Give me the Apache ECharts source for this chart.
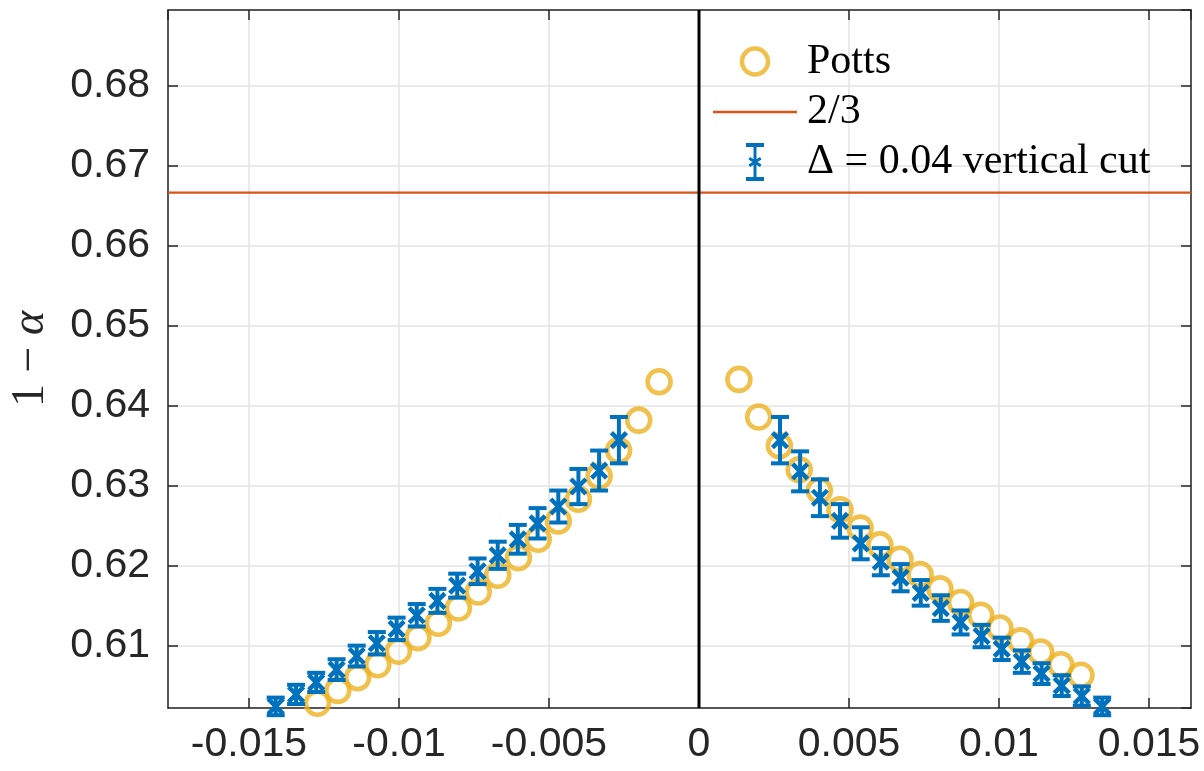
<!DOCTYPE html>
<html>
<head>
<meta charset="utf-8">
<script src="https://cdn.jsdelivr.net/npm/echarts@6/dist/echarts.min.js"></script>
<style>
html,body{margin:0;padding:0;background:#fff;}
#chart{width:1204px;height:771px;}
</style>
</head>
<body>
<div id="chart"></div>
<script>
// Axis ranges
var xRange = [-0.0177, 0.0164];
var yRange = [0.6022, 0.6895];
var xStep = 0.005;
var yStep = 0.01;
var twoThirds = 2 / 3;

// Potts (orange circles), left branch then right branch: [x, 1-alpha]
var pottsLeft = [
  [-0.00133, 0.6430], [-0.00201, 0.6382], [-0.00268, 0.6344], [-0.00333, 0.6312],
  [-0.00402, 0.6283], [-0.00469, 0.6256], [-0.00536, 0.6233], [-0.00602, 0.6210],
  [-0.00671, 0.6188], [-0.00736, 0.6167], [-0.00802, 0.6147], [-0.00869, 0.6128],
  [-0.00937, 0.6110], [-0.01002, 0.6093], [-0.01071, 0.6076], [-0.01138, 0.6060],
  [-0.01204, 0.6044], [-0.01272, 0.6028]
];
var pottsRight = [
  [0.00133, 0.6433], [0.00199, 0.6386], [0.00268, 0.6350], [0.00334, 0.6320],
  [0.00401, 0.6294], [0.00470, 0.6270], [0.00537, 0.6247], [0.00603, 0.6226],
  [0.00670, 0.6208], [0.00737, 0.6189], [0.00803, 0.6171], [0.00872, 0.6154],
  [0.00939, 0.6138], [0.01003, 0.6122], [0.01072, 0.6106], [0.01139, 0.6092],
  [0.01206, 0.6076], [0.01273, 0.6063]
];

// Delta = 0.04 vertical cut (blue, with error): [x, 1-alpha, error]
var cutLeft = [
  [-0.01411, 0.6024, 0.0011], [-0.01343, 0.6039, 0.0012], [-0.01276, 0.6054, 0.0012],
  [-0.01208, 0.6070, 0.0013], [-0.01141, 0.6087, 0.0013], [-0.01074, 0.6103, 0.0014],
  [-0.01008, 0.6121, 0.0014], [-0.00941, 0.6138, 0.0014], [-0.00872, 0.6156, 0.0015],
  [-0.00806, 0.6175, 0.0015], [-0.00738, 0.6193, 0.0016], [-0.00671, 0.6213, 0.0017],
  [-0.00604, 0.6233, 0.0018], [-0.00538, 0.6253, 0.0019], [-0.00469, 0.6274, 0.0020],
  [-0.00402, 0.6299, 0.0022], [-0.00333, 0.6319, 0.0025], [-0.00267, 0.6357, 0.0029]
];
var cutRight = [
  [0.00270, 0.6357, 0.0029], [0.00337, 0.6318, 0.0025], [0.00403, 0.6285, 0.0023],
  [0.00470, 0.6256, 0.0021], [0.00539, 0.6228, 0.0020], [0.00606, 0.6205, 0.0017],
  [0.00672, 0.6185, 0.0017], [0.00739, 0.6166, 0.0016], [0.00806, 0.6147, 0.0016],
  [0.00872, 0.6129, 0.0015], [0.00942, 0.6112, 0.0014], [0.01009, 0.6096, 0.0014],
  [0.01076, 0.6080, 0.0014], [0.01142, 0.6065, 0.0013], [0.01209, 0.6050, 0.0013],
  [0.01276, 0.6037, 0.0012], [0.01344, 0.6024, 0.0011]
];

var names = ['Potts', '2/3', 'Δ = 0.04 vertical cut'];

var BLUE = '#0072BD', ORANGE = '#EDB120', RED = '#D95319', AX = '#262626', GRID = '#e3e3e3';

var chart = echarts.init(document.getElementById('chart'), null, {renderer: 'canvas'});

function errRender(params, api) {
  var x = api.value(0), y = api.value(1), e = api.value(2);
  var c = api.coord([x, y]);
  var t = api.coord([x, y + e]);
  var b = api.coord([x, y - e]);
  var hw = 9, m = 7.5;
  var st = {stroke: BLUE, lineWidth: 4, fill: null};
  var ms = {stroke: BLUE, lineWidth: 4.5, fill: null};
  return {
    type: 'group',
    children: [
      {type: 'line', shape: {x1: c[0], y1: t[1], x2: c[0], y2: b[1]}, style: st},
      {type: 'line', shape: {x1: c[0] - hw, y1: t[1], x2: c[0] + hw, y2: t[1]}, style: st},
      {type: 'line', shape: {x1: c[0] - hw, y1: b[1], x2: c[0] + hw, y2: b[1]}, style: st},
      {type: 'line', shape: {x1: c[0] - m, y1: c[1] - m, x2: c[0] + m, y2: c[1] + m}, style: ms},
      {type: 'line', shape: {x1: c[0] - m, y1: c[1] + m, x2: c[0] + m, y2: c[1] - m}, style: ms}
    ]
  };
}

var axisCommonX = {
  type: 'value', min: xRange[0], max: xRange[1], minInterval: xStep, maxInterval: xStep
};
var axisCommonY = {
  type: 'value', min: yRange[0], max: yRange[1], minInterval: yStep, maxInterval: yStep
};

var option = {
  animation: false,
  backgroundColor: '#ffffff',
  grid: {left: 168, right: 13, top: 10, bottom: 63, containLabel: false},
  xAxis: [
    Object.assign({}, axisCommonX, {
      position: 'bottom',
      axisLine: {show: true, onZero: false, lineStyle: {color: AX, width: 1.5}},
      axisTick: {show: true, inside: true, length: 10, lineStyle: {color: AX, width: 1.5}},
      splitLine: {show: true, lineStyle: {color: GRID, width: 1.5}},
      axisLabel: {show: true, showMinLabel: false, showMaxLabel: false, margin: 16,
        color: AX, fontFamily: 'Liberation Sans', fontSize: 41}
    }),
    Object.assign({}, axisCommonX, {
      position: 'top',
      axisLine: {show: true, onZero: false, lineStyle: {color: AX, width: 1.5}},
      axisTick: {show: true, inside: true, length: 10, lineStyle: {color: AX, width: 1.5}},
      splitLine: {show: false},
      axisLabel: {show: false}
    })
  ],
  yAxis: [
    Object.assign({}, axisCommonY, {
      position: 'left',
      name: '{n|1 − }{a|α}',
      nameLocation: 'middle',
      nameRotate: 90,
      nameGap: 114,
      nameTextStyle: {
        rich: {
          n: {fontFamily: 'Liberation Serif', fontSize: 46, color: AX},
          a: {fontFamily: 'Liberation Serif', fontStyle: 'italic', fontSize: 46, color: AX}
        }
      },
      axisLine: {show: true, onZero: false, lineStyle: {color: AX, width: 1.5}},
      axisTick: {show: true, inside: true, length: 10, lineStyle: {color: AX, width: 1.5}},
      splitLine: {show: true, lineStyle: {color: GRID, width: 1.5}},
      axisLabel: {show: true, showMinLabel: false, showMaxLabel: false, margin: 18,
        color: AX, fontFamily: 'Liberation Sans', fontSize: 41}
    }),
    Object.assign({}, axisCommonY, {
      position: 'right',
      axisLine: {show: true, onZero: false, lineStyle: {color: AX, width: 1.5}},
      axisTick: {show: true, inside: true, length: 10, lineStyle: {color: AX, width: 1.5}},
      splitLine: {show: false},
      axisLabel: {show: false}
    })
  ],
  legend: {
    orient: 'vertical',
    left: 713,
    top: 40,
    padding: 0,
    itemWidth: 84,
    itemHeight: 38,
    itemGap: 8,
    selectedMode: false,
    textStyle: {fontFamily: 'Liberation Serif', fontSize: 42, color: '#000', padding: [0, 0, 0, 5]},
    data: [
      {name: names[0], icon: 'path://M0,0 M38,38 M6,19 A13,13 0 1 1 32,19 A13,13 0 1 1 6,19 Z',
        itemStyle: {color: 'none', borderColor: ORANGE, borderWidth: 4.5}},
      {name: names[1], icon: 'path://M0,0 H84 V2.5 H0 Z', itemStyle: {color: RED}},
      {name: names[2], icon: 'path://M0,0 H18 V4 H0 Z M0,34 H18 V38 H0 Z M7.5,4 H10.5 V34 H7.5 Z M4,14 L9,17 L14,14 L15.5,16.5 L11.5,19 L15.5,21.5 L14,24 L9,21 L4,24 L2.5,21.5 L6.5,19 L2.5,16.5 Z',
        itemStyle: {color: BLUE}}
    ]
  },
  series: [
    {
      name: names[0],
      type: 'scatter',
      xAxisIndex: 0, yAxisIndex: 0,
      symbol: 'circle',
      symbolSize: 23,
      itemStyle: {color: 'rgba(0,0,0,0)', borderColor: ORANGE, borderWidth: 4.6},
      data: pottsLeft.concat(pottsRight),
      z: 3
    },
    {
      name: names[1],
      type: 'line',
      xAxisIndex: 0, yAxisIndex: 0,
      symbol: 'none',
      lineStyle: {color: RED, width: 2.2},
      itemStyle: {color: RED},
      data: [[xRange[0], twoThirds], [xRange[1], twoThirds]],
      z: 4
    },
    {
      name: names[2],
      type: 'custom',
      xAxisIndex: 0, yAxisIndex: 0,
      renderItem: errRender,
      itemStyle: {color: BLUE},
      encode: {x: 0, y: 1},
      clip: false,
      data: cutLeft.concat(cutRight),
      z: 5
    },
    {
      name: 'zero',
      type: 'line',
      xAxisIndex: 0, yAxisIndex: 0,
      symbol: 'none',
      silent: true,
      lineStyle: {color: '#000000', width: 3},
      data: [[0, yRange[0]], [0, yRange[1]]],
      z: 6
    }
  ]
};
chart.setOption(option);
</script>
</body>
</html>
